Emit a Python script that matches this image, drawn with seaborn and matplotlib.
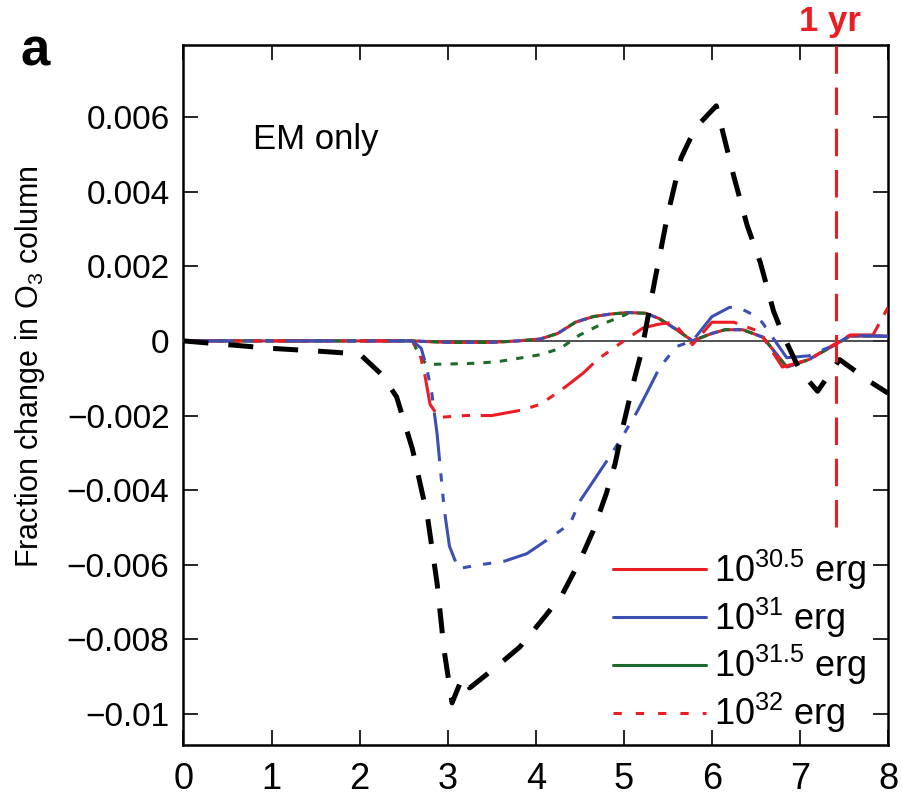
import matplotlib
matplotlib.use("Agg")
import matplotlib.pyplot as plt
import seaborn as sns
import pandas as pd
from matplotlib.lines import Line2D

# ---------------- data ----------------
x_black = [0, 0.5, 1.0, 1.5, 2.0, 2.25, 2.42, 2.6, 2.77, 2.88, 2.96, 3.05, 3.17, 3.25,
           3.57, 3.82, 4.1, 4.3, 4.5, 4.65, 4.8, 4.9, 5.0, 5.1, 5.2, 5.35, 5.5, 5.65,
           5.75, 5.85, 6.05, 6.25, 6.4, 6.55, 6.7, 6.8, 7.0, 7.2, 7.45, 7.8, 8.0]
y_black = [0, -0.0001, -0.0002, -0.00027, -0.00035, -0.0009, -0.0015, -0.0029, -0.0047,
           -0.0065, -0.0083, -0.0097, -0.0090, -0.0093, -0.0087, -0.0082, -0.0074, -0.0068,
           -0.0059, -0.0051, -0.0041, -0.0033, -0.0022, -0.0012, -0.0003, 0.0016, 0.0034,
           0.0049, 0.0054, 0.0058, 0.0063, 0.0044, 0.0031, 0.0021, 0.0008, 0.0002, -0.0008,
           -0.00135, -0.0005, -0.0011, -0.0014]

x_hump = [0, 2.6, 3.0, 3.5, 3.8, 4.05, 4.25, 4.45, 4.65, 4.85, 5.05, 5.25, 5.4, 5.6,
          5.78, 6.0, 6.15, 6.35, 6.58, 6.85, 7.1, 7.4, 7.57, 7.83, 8.0]
y_hump = [0, 0, -0.00004, -0.00004, 0, 0.00005, 0.0002, 0.0005, 0.00065, 0.00072,
          0.00076, 0.00074, 0.0006, 0.0003, 0, 0.0002, 0.0003, 0.0003, 0.0001, -0.0007,
          -0.0005, -0.0001, 0.00013, 0.00013, 0.00013]

x_red = [0, 2.6, 2.68, 2.74, 2.8, 2.9, 3.2, 3.5, 3.85, 4.05, 4.3, 4.54, 4.7, 4.85, 5.0,
         5.22, 5.4, 5.56, 5.78, 6.0, 6.25, 6.54, 6.8, 7.1, 7.42, 7.57, 7.83, 8.0]
y_red = [0, 0, -0.0003, -0.0009, -0.0017, -0.00205, -0.002, -0.002, -0.00185, -0.0017,
         -0.0013, -0.00086, -0.0005, -0.00025, 0, 0.00035, 0.00045, 0.0005, -0.0001,
         0.0005, 0.0005, 0.00025, -0.0007, -0.0005, -0.00005, 0.00016, 0.00016, 0.0009]

x_blue = [0, 2.6, 2.7, 2.76, 2.82, 2.88, 2.92, 2.96, 3.02, 3.12, 3.37, 3.65, 3.9, 4.15,
          4.39, 4.5, 4.67, 4.84, 5.0, 5.15, 5.26, 5.41, 5.6, 5.78, 6.0, 6.2, 6.3, 6.47,
          6.57, 6.85, 7.1, 7.4, 7.57, 8.0]
y_blue = [0, 0, -0.0002, -0.0007, -0.0014, -0.0025, -0.0035, -0.0045, -0.0055, -0.0061,
          -0.006, -0.0059, -0.0057, -0.0053, -0.0049, -0.0043, -0.0037, -0.0031, -0.0025,
          -0.0019, -0.0014, -0.0007, -0.00015, 0, 0.00065, 0.0009, 0.0009, 0.0007, 0.0005,
          -0.00045, -0.0004, -0.0001, 0.00015, 0.00012]

x_green = [0, 2.6, 2.68, 2.76, 3.0, 3.3, 3.56, 3.82, 4.05, 4.28, 4.5, 4.73, 4.96, 5.05]
y_green = [0, 0, -0.0004, -0.00063, -0.00062, -0.0006, -0.00056, -0.00046, -0.00037,
           -0.0002, 0.00016, 0.00043, 0.00064, 0.00074]

legend_labels = [r"$10^{30.5}$ erg", r"$10^{31}$ erg", r"$10^{31.5}$ erg", r"$10^{32}$ erg"]
x_ticks = [0, 1, 2, 3, 4, 5, 6, 7, 8]
y_ticks = [-0.01, -0.008, -0.006, -0.004, -0.002, 0, 0.002, 0.004, 0.006]
y_ticklabels = ["\u22120.01", "\u22120.008", "\u22120.006", "\u22120.004", "\u22120.002",
                "0", "0.002", "0.004", "0.006"]
one_year = 7.41

RED = "#ec1c24"
BLUE = "#3c4fb4"
GREEN = "#1d6b2c"

# ---------------- style ----------------
sns.set_theme(style="ticks")
plt.rcParams['font.family'] = ['Liberation Sans', 'DejaVu Sans']
plt.rcParams['mathtext.default'] = 'regular'
plt.rcParams['text.color'] = 'black'
plt.rcParams['axes.labelcolor'] = 'black'
plt.rcParams['xtick.color'] = 'black'
plt.rcParams['ytick.color'] = 'black'

fig = plt.figure(figsize=(9.02, 7.98), dpi=100)
ax = fig.add_axes([0.2034, 0.0664, 0.7811, 0.8772])

def draw(x, y, color, lw, ls, z):
    sns.lineplot(x=x, y=y, ax=ax, color=color, linewidth=lw, linestyle=ls,
                 estimator=None, sort=False, errorbar=None, zorder=z,
                 solid_capstyle="butt", dash_capstyle="butt")

# zero line
ax.axhline(0, color="#333333", lw=1.2, zorder=1)

# hump group (overlapping)
draw(x_hump, y_hump, RED, 2.2, "-", 2)
draw(x_hump, y_hump, BLUE, 2.2, (0, (2.7, 5.0)), 3)
draw(x_hump, y_hump, GREEN, 2.2, (3.8, (2.7, 5.0)), 3)

# dip curves
draw(x_green, y_green, GREEN, 2.2, (0, (2.4, 3.0)), 4)
draw(x_red, y_red, RED, 2.2, (0, (13, 3.5, 2.7, 3.5, 2.7, 3.5)), 4)
draw(x_blue, y_blue, BLUE, 2.2, (0, (16, 4, 2.7, 4, 2.7, 4)), 4)

# black
draw(x_black, y_black, "black", 3.6, (0, (5, 4)), 5)

# one-year marker
ax.plot([one_year, one_year], [-0.005, 0.0082], color=RED, lw=2.2,
        linestyle=(0, (9, 4.5)), clip_on=False, zorder=6)
ax.text(one_year - 0.07, 0.00855, "1 yr", color=RED, fontsize=25, fontweight="bold",
        ha="center", va="center", clip_on=False)

ax.text(0.79, 0.0054, "EM only", fontsize=25, va="center", ha="left")
fig.text(20 / 902, 1 - 52 / 798, "a", fontsize=38, fontweight="bold", va="center", ha="left")

ax.set_xlim(0, 8)
ax.set_ylim(-0.01083, 0.00793)
ax.set_xticks(x_ticks)
ax.set_xticklabels([str(t) for t in x_ticks])
ax.set_yticks(y_ticks)
ax.set_yticklabels(y_ticklabels)
ax.tick_params(direction="in", length=11, width=1.2, top=True, right=True, colors="black")
ax.tick_params(axis="y", labelsize=24, pad=10)
ax.tick_params(axis="x", labelsize=26, pad=12)
for s in ax.spines.values():
    s.set_linewidth(1.8)
    s.set_color("black")
ax.set_xlabel("")
ax.set_ylabel("Fraction change in O$_3$ column", fontsize=22)
ax.yaxis.set_label_coords(-0.193, 0.541)

handles = [Line2D([0], [0], color=RED, lw=2.2),
           Line2D([0], [0], color=BLUE, lw=2.2),
           Line2D([0], [0], color=GREEN, lw=2.2),
           Line2D([0], [0], color=RED, lw=2.2, linestyle=(0, (2.7, 4.6)))]
ax.legend(handles, legend_labels, loc="upper left", bbox_to_anchor=(0.609, 0.282),
          frameon=False, fontsize=26, handlelength=2.6, handletextpad=0.22,
          labelspacing=0.1, borderpad=0, borderaxespad=0)

fig.savefig("out.png", dpi=100)
